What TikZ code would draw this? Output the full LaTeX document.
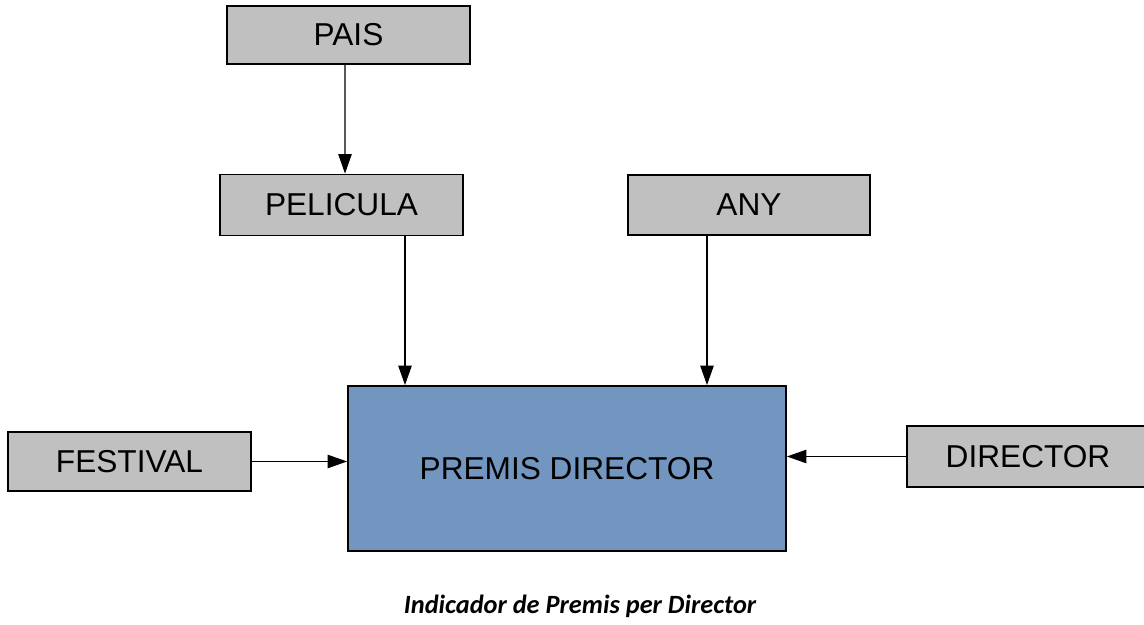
\documentclass[tikz,border=0pt]{standalone}
\usepackage{fontspec}
\setmainfont{Liberation Sans}
\newfontfamily\carlito{Carlito}
\definecolor{dimgrey}{RGB}{192,192,192}
\definecolor{factblue}{RGB}{115,150,192}
\usetikzlibrary{arrows.meta}

\begin{document}
\begin{tikzpicture}[
    dimbox/.style={draw=black, fill=dimgrey, line width=1.1pt, minimum width=4.86cm, minimum height=1.2cm, inner sep=0pt, font=\fontsize{18}{20}\selectfont},
    factbox/.style={draw=black, fill=factblue, line width=1.1pt, minimum width=8.76cm, minimum height=3.3cm, inner sep=0pt, font=\fontsize{18}{20}\selectfont},
    arr/.style={-{Triangle[length=3.9mm,width=2.7mm]}, line width=0.6pt}]

    \useasboundingbox (0,0) rectangle (22.88,-12.5);

    % fact table
    \node[factbox] (premis) at (11.34,-9.37) {PREMIS DIRECTOR};

    % dimensions
    \node[dimbox, minimum height=1.16cm] (pais) at (6.97,-0.70) {PAIS};
    \node[dimbox, minimum height=1.22cm] (pelicula) at (6.83,-4.10) {PELICULA};
    \node[dimbox, minimum width=4.84cm] (any) at (14.98,-4.10) {ANY};
    \node[dimbox, minimum height=1.18cm] (festival) at (2.59,-9.23) {FESTIVAL};
    \node[dimbox, minimum height=1.22cm, minimum width=5.1cm] (director) at (20.69,-9.13) {DIRECTOR\hspace*{0.26cm}};

    \draw[arr] ([xshift=-0.07cm]pais.south) -- ([xshift=0.07cm]pelicula.north);
    \draw[arr] ([xshift=1.27cm]pelicula.south) -- ([xshift=1.27cm]pelicula.south |- premis.north);
    \draw[arr] ([xshift=-0.84cm]any.south) -- ([xshift=-0.84cm]any.south |- premis.north);
    \draw[arr] (festival.east) -- (premis.west |- festival.east);
    \draw[arr] (director.west) -- (premis.east |- director.west);

    \node[anchor=base] (caption) at (11.60,-12.26) {\fontsize{15}{18}\selectfont\carlito\bfseries\itshape Indicador de Premis per Director};

\end{tikzpicture}
\end{document}
